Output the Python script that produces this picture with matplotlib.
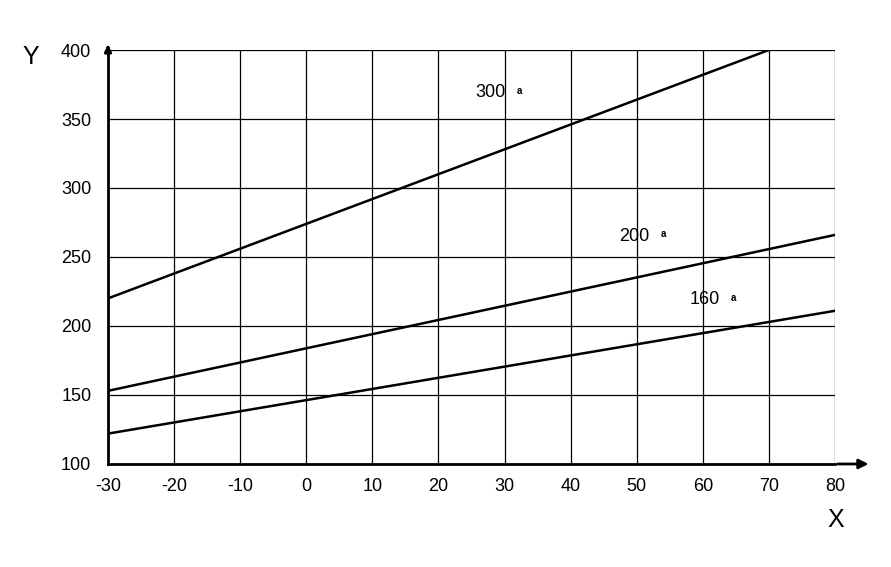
import numpy as np
import matplotlib.pyplot as plt

plt.rcParams['font.family'] = ['Liberation Sans', 'DejaVu Sans']
plt.rcParams['axes.unicode_minus'] = False

# line end points (x, y)
x_300 = [-30, 70]
y_300 = [220, 400]
x_200 = [-30, 80]
y_200 = [153, 266]
x_160 = [-30, 80]
y_160 = [122, 211]

labels = ["300", "200", "160"]
label_x = [27.8, 49.6, 60.3]
label_y = [369, 265, 219]

xticks = list(range(-30, 81, 10))
yticks = list(range(100, 401, 50))

fig = plt.figure(figsize=(8.91, 5.67), dpi=100)
ax = fig.add_axes([0.1212, 0.1817, 0.8159, 0.7301])

ax.plot(x_300, y_300, color="black", lw=1.8)
ax.plot(x_200, y_200, color="black", lw=1.8)
ax.plot(x_160, y_160, color="black", lw=1.8)

for t, lx, ly in zip(labels, label_x, label_y):
    ax.text(lx, ly, t, fontsize=13, ha="center", va="center")
    ax.text(lx + 4.4, ly + 1.5, "a", fontsize=7, ha="center", va="center",
            fontweight="bold")

ax.set_xlim(-30, 80)
ax.set_ylim(100, 400)
ax.set_xticks(xticks)
ax.set_yticks(yticks)
ax.tick_params(length=0, labelsize=13)
ax.tick_params(axis="x", pad=10)
ax.tick_params(axis="y", pad=12)
ax.grid(True, color="black", lw=0.9)

for s in ["top", "right"]:
    ax.spines[s].set_visible(False)
for s in ["left", "bottom"]:
    ax.spines[s].set_linewidth(2)

# axis arrows
ax.annotate("", xy=(85.5, 100), xytext=(80, 100),
            arrowprops=dict(arrowstyle="-|>", color="black", lw=2,
                            mutation_scale=14), annotation_clip=False)
ax.annotate("", xy=(-30, 406), xytext=(-30, 398),
            arrowprops=dict(arrowstyle="-|>", color="black", lw=2,
                            mutation_scale=10), annotation_clip=False)

fig.text(31 / 891, 1 - 57 / 567, "Y", fontsize=18, ha="center", va="center")
fig.text(836 / 891, 1 - 520 / 567, "X", fontsize=18, ha="center", va="center")

fig.savefig("out.png", dpi=100)
